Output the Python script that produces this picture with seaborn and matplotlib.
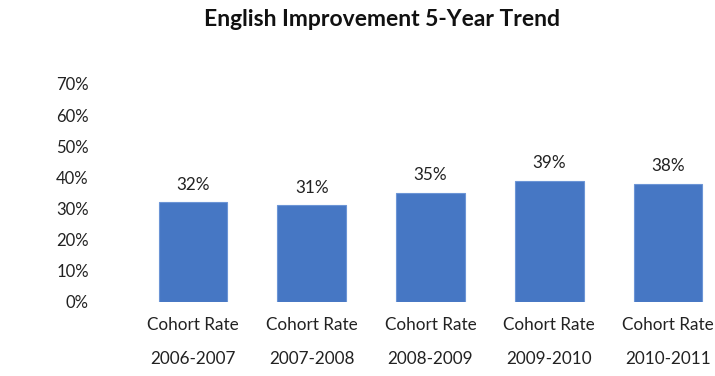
import matplotlib
matplotlib.use("Agg")
import matplotlib.pyplot as plt
import seaborn as sns
import pandas as pd

# Cohort improvement rates by school year
periods = ["2006-2007", "2007-2008", "2008-2009", "2009-2010", "2010-2011"]
rate_label = "Cohort Rate"
rates = [32, 31, 35, 39, 38]
y_ticks = [0, 10, 20, 30, 40, 50, 60, 70]
title = "English Improvement 5-Year Trend"

sns.set_theme(style="white")
plt.rcParams["font.family"] = ["Lato", "DejaVu Sans"]

df = pd.DataFrame({"period": [f"{rate_label}\n{p}" for p in periods], "rate": rates})

fig = plt.figure(figsize=(7.15, 3.76), dpi=100)
W, H = 715, 376
ax = fig.add_axes([100 / W, (H - 302) / H, (715 - 100) / W, 218 / H])

sns.barplot(data=df, x="period", y="rate", color="#4677C4", saturation=1,
            width=0.58, ax=ax, edgecolor="#6C95D6", linewidth=0.8)

ax.set_ylim(0, 70)
ax.set_xlim(-0.783, 4.396)
ax.set_yticks(y_ticks)
ax.set_yticklabels([f"{v}%" for v in y_ticks], fontsize=12, color="#222222")
ax.tick_params(axis="x", labelsize=12.3, labelcolor="#222222", pad=11, length=0)
ax.tick_params(axis="y", length=0, pad=8)
for lbl in ax.get_xticklabels():
    lbl.set_linespacing(2.4)
ax.set_xlabel("")
ax.set_ylabel("")
for s in ax.spines.values():
    s.set_visible(False)

for container in ax.containers:
    ax.bar_label(container, labels=[f"{v}%" for v in rates], padding=7,
                 fontsize=12.3, color="#222222")

fig.text(382 / W, 1 - 20 / H, title, ha="center", va="center",
         fontsize=16.5, fontweight="bold", color="#111111")

fig.savefig("out.png", dpi=100, facecolor="white")
